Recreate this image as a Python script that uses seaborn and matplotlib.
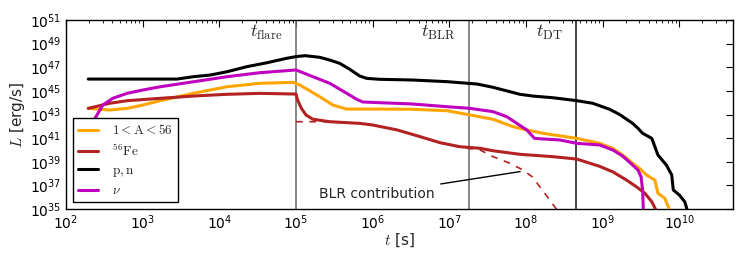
import matplotlib
matplotlib.use("Agg")
import matplotlib.pyplot as plt
import numpy as np
import pandas as pd
import seaborn as sns
from matplotlib.ticker import FixedLocator, NullLocator

# log10 of time [s] and luminosity [erg/s]
logt_pn = [2.29, 3.0, 3.45, 3.66, 3.88, 4.10, 4.36, 4.62, 4.88, 5.0, 5.12, 5.31, 5.44,
           5.57, 5.70, 5.83, 5.92, 6.09, 6.52, 6.97, 7.36, 7.57, 7.79, 7.92, 8.09,
           8.35, 8.66, 8.87, 9.09, 9.22, 9.39, 9.46, 9.52, 9.64, 9.72, 9.83, 9.90,
           9.92, 10.0, 10.07, 10.10]
logL_pn = [46.0, 46.0, 46.0, 46.2, 46.34, 46.62, 47.05, 47.38, 47.76, 47.9, 47.98, 47.84,
           47.61, 47.33, 46.83, 46.26, 46.06, 45.98, 45.92, 45.78, 45.58, 45.3, 44.93,
           44.71, 44.56, 44.42, 44.17, 43.95, 43.44, 43.0, 42.25, 41.83, 41.41, 40.98,
           39.57, 38.72, 37.88, 36.61, 36.18, 35.61, 34.95]

logt_nu = [2.29, 2.35, 2.48, 2.61, 2.80, 3.0, 3.23, 3.66, 4.10, 4.53, 5.0, 5.22, 5.44,
           5.66, 5.79, 5.87, 6.09, 6.52, 6.97, 7.27, 7.57, 7.75, 7.88, 8.01, 8.11,
           8.44, 8.66, 8.96, 9.13, 9.26, 9.39, 9.46, 9.50, 9.52, 9.53]
logL_nu = [38.0, 42.36, 43.8, 44.37, 44.8, 45.07, 45.35, 45.77, 46.2, 46.54, 46.77, 46.2,
           45.64, 44.8, 44.29, 44.06, 44.0, 43.89, 43.66, 43.52, 43.24, 42.81, 42.25,
           41.69, 40.98, 40.84, 40.56, 40.42, 40.0, 39.48, 38.72, 38.3, 37.73, 36.6,
           34.91]

logt_A = [2.29, 2.57, 2.80, 3.0, 3.23, 3.66, 4.10, 4.53, 4.96, 5.05, 5.31, 5.48, 5.66,
          5.79, 6.09, 6.52, 6.97, 7.27, 7.57, 7.83, 8.01, 8.22, 8.66, 8.96, 9.13,
          9.26, 9.39, 9.48, 9.57, 9.68, 9.72, 9.81, 9.87]
logL_A = [43.52, 43.38, 43.52, 43.8, 44.17, 44.79, 45.35, 45.64, 45.72, 45.5, 44.5,
          43.8, 43.46, 43.46, 43.46, 43.44, 43.32, 42.96, 42.59, 41.97, 41.69, 41.41,
          40.98, 40.56, 40.14, 39.57, 38.87, 38.44, 37.88, 37.45, 36.33, 35.9, 34.95]

logt_fe = [2.29, 2.57, 2.80, 3.23, 3.66, 4.10, 4.53, 5.0, 5.02, 5.07, 5.13, 5.22, 5.44,
           5.83, 6.0, 6.32, 6.62, 6.88, 7.14, 7.40, 7.57, 7.92, 8.35, 8.66, 8.96,
           9.13, 9.31, 9.44, 9.55, 9.64, 9.69]
logL_fe = [43.52, 43.95, 44.17, 44.37, 44.56, 44.71, 44.79, 44.73, 44.23, 43.52, 42.96,
           42.6, 42.39, 42.25, 42.11, 41.69, 41.12, 40.61, 40.27, 40.14, 39.93, 39.63,
           39.43, 39.23, 38.61, 38.15, 37.45, 36.88, 36.33, 35.61, 34.97]

logt_blr = [5.0, 5.44, 5.83, 6.0, 6.32, 6.62, 6.88, 7.14, 7.40, 7.57, 7.79, 7.96, 8.08,
            8.18, 8.31, 8.40]
logL_blr = [42.39, 42.39, 42.25, 42.11, 41.69, 41.12, 40.61, 40.22, 40.0, 39.43, 38.87,
            38.3, 37.73, 36.88, 35.76, 34.95]

t_marks = [1e5, 1.8e7, 4.5e8]
mark_labels = [r"$t_{\rm flare}$", r"$t_{\rm BLR}$", r"$t_{\rm DT}$"]

sns.set_theme(style="white")
plt.rcParams["font.family"] = ["DejaVu Sans"]
plt.rcParams["mathtext.fontset"] = "cm"
plt.rcParams["xtick.direction"] = "in"
plt.rcParams["ytick.direction"] = "in"

fig = plt.figure(figsize=(7.47, 2.62), dpi=100)
ax = fig.add_axes([66 / 747, 1 - 209 / 262, 667 / 747, 189 / 262])
ax.set_xscale("log")
ax.set_yscale("log")

series = [
    (logt_A, logL_A, "#FFA500", r"$1<\mathrm{A}<56$"),
    (logt_fe, logL_fe, "#B22222", r"$^{56}\mathrm{Fe}$"),
    (logt_pn, logL_pn, "#000000", r"$\mathrm{p,n}$"),
    (logt_nu, logL_nu, "#BF00BF", r"$\nu$"),
]
for lt, lL, color, label in series:
    df = pd.DataFrame({"t": 10 ** np.array(lt), "L": 10 ** np.array(lL)})
    sns.lineplot(data=df, x="t", y="L", color=color, lw=2.2, label=label,
                 ax=ax, sort=False, estimator=None, zorder=3)

df_blr = pd.DataFrame({"t": 10 ** np.array(logt_blr), "L": 10 ** np.array(logL_blr)})
sns.lineplot(data=df_blr, x="t", y="L", color="#B22222", lw=1.2, ax=ax,
             sort=False, estimator=None, zorder=2)
ax.lines[-1].set_dashes([4, 4])

for tm, lab, col in zip(t_marks, mark_labels, ["0.45", "0.45", "0.15"]):
    ax.axvline(tm, color=col, lw=1.2, zorder=1)
    ax.text(tm / 1.5, 8e49, lab, ha="right", va="center", fontsize=13)

ax.annotate("BLR contribution", xy=(9.1e7, 1.6e38), xytext=(2.0e5, 1.9e36),
            ha="left", va="center", fontsize=10,
            arrowprops=dict(arrowstyle="-", color="black", lw=1))

ax.set_xlim(1e2, 5e10)
ax.set_ylim(1e35, 1e51)
ax.set_xticks([10.0 ** e for e in range(2, 11)])
ax.set_yticks([10.0 ** e for e in range(35, 52, 2)])
ax.yaxis.set_minor_locator(NullLocator())
minor_x = [m * 10.0 ** e for e in range(2, 11) for m in range(2, 10) if m * 10.0 ** e < 5e10]
ax.xaxis.set_minor_locator(FixedLocator(minor_x))
ax.tick_params(which="both", top=True, right=True, labelsize=10, colors="black")
ax.tick_params(which="major", length=5, width=0.8)
ax.tick_params(which="minor", length=2.5, width=0.6)
for sp in ax.spines.values():
    sp.set_color("black")
    sp.set_linewidth(1.0)

ax.set_xlabel(r"$t$ [s]", fontsize=11)
ax.set_ylabel(r"$L$ [erg/s]", fontsize=11)
ax.xaxis.set_label_coords(0.5, -0.12)
ax.yaxis.set_label_coords(-0.058, 0.5)

leg = ax.legend(loc="lower left", fontsize=9.5, frameon=True, fancybox=False,
                handlelength=1.5, handletextpad=1.1, labelspacing=0.4,
                borderaxespad=0.5)
leg.get_frame().set_edgecolor("black")
leg.get_frame().set_linewidth(1.0)
leg.get_frame().set_alpha(1)

fig.savefig("out.png", dpi=100)
